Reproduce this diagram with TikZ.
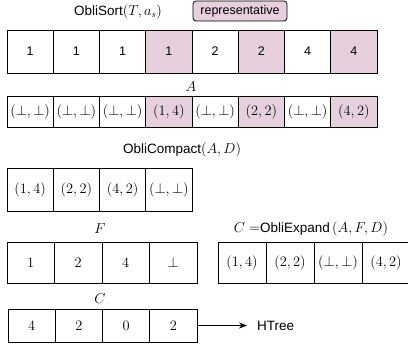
\documentclass[tikz,border=0pt]{standalone}
\usepackage{amsmath,amssymb}
\usepackage[no-math]{fontspec}
\setmainfont{Liberation Sans}
\usepackage{tikz}
\usetikzlibrary{positioning,arrows.meta}
\definecolor{repfill}{RGB}{230,208,222}
\newcommand{\mfont}{\fontsize{15}{17}\selectfont}
\newcommand{\sfont}{\fontsize{12.5}{14}\selectfont}

\begin{document}
\begin{tikzpicture}[x=1pt,y=-1pt,font=\fontsize{13.5}{16}\selectfont,
  cell/.style={draw,line width=0.75pt,inner sep=0pt,outer sep=0pt},
  mcell/.style={cell,font=\mfont},
  lbl/.style={inner sep=1pt,font=\mfont}]
\useasboundingbox (0,0) rectangle (408,356);
\clip (0,0) rectangle (408,356);
% sorted input
\node (sortlbl) at (118,12) {ObliSort$(T,a_s)$};
\node[cell,font=\sfont,rounded corners=3pt,fill=repfill,minimum width=94,minimum height=20] (legend) at (240,11) {representative};
\foreach \v/\f [count=\i] in {1/white,1/white,1/white,1/repfill,2/white,2/repfill,4/white,4/repfill}{
  \node[cell,font=\sfont,fill=\f,minimum width=46.25,minimum height=43] (s\i) at ({7+46.25*(\i-0.5)},51.5) {\v};
}
% array A
\node[lbl] (albl) at (191,87) {$A$};
\foreach \v/\f [count=\i] in {
{$(\bot,\bot)$}/white,{$(\bot,\bot)$}/white,{$(\bot,\bot)$}/white,{$(1,4)$}/repfill,
{$(\bot,\bot)$}/white,{$(2,2)$}/repfill,{$(\bot,\bot)$}/white,{$(4,2)$}/repfill}{
  \node[mcell,fill=\f,minimum width=46.25,minimum height=31] (a\i) at ({7+46.25*(\i-0.5)},111.5) {\v};
}
% compacted
\node (cmplbl) at (182,150) {ObliCompact$(A,D)$};
\foreach \v [count=\i] in {{$(1,4)$},{$(2,2)$},{$(4,2)$},{$(\bot,\bot)$}}{
  \node[mcell,minimum width=46.25,minimum height=43] (k\i) at ({7+46.25*(\i-0.5)},189.5) {\v};
}
% F and expanded
\node[lbl] (flbl) at (100,229) {$F$};
\foreach \v [count=\i] in {1,2,4,\bot}{
  \node[mcell,minimum width=47.5,minimum height=41] (f\i) at ({7+47.5*(\i-0.5)},262.5) {$\v$};
}
\node (explbl) at (311,229) {$C =$ObliExpand$\,(A,F,D)$};
\foreach \v [count=\i] in {{$(1,4)$},{$(2,2)$},{$(\bot,\bot)$},{$(4,2)$}}{
  \node[mcell,minimum width=48,minimum height=41] (e\i) at ({218+48*(\i-0.5)},262.5) {\v};
}
% C to HTree
\node[lbl] (clbl) at (100,299) {$C$};
\foreach \v [count=\i] in {4,2,0,2}{
  \node[mcell,minimum width=47.25,minimum height=33] (c\i) at ({8+47.25*(\i-0.5)},325.5) {$\v$};
}
\node[anchor=west,inner sep=0pt] (htree) at (257,325.5) {HTree};
\draw[-{Stealth[length=8pt,width=6pt]},line width=0.75pt,shorten >=10pt] (c4.east) -- (htree.west);
\end{tikzpicture}
\end{document}
